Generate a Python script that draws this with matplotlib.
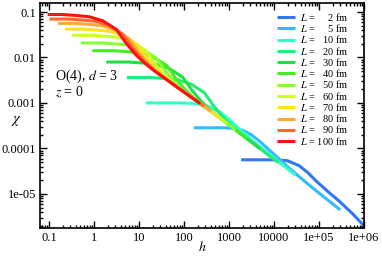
import numpy as np
import matplotlib
matplotlib.use("Agg")
import matplotlib.pyplot as plt
from matplotlib.ticker import FixedLocator, LogLocator, NullFormatter

plt.rcParams['font.family'] = ['Liberation Serif', 'DejaVu Serif']
plt.rcParams['mathtext.fontset'] = 'stix'

# curves: log10(h), log10(chi)
lh_2 = [3.27, 4.0, 4.3, 4.56, 4.75, 4.93, 5.2, 5.45, 5.75, 6.0]
lc_2 = [-4.25, -4.25, -4.27, -4.38, -4.53, -4.71, -4.95, -5.16, -5.44, -5.70]

lh_5 = [2.22, 2.9, 3.1, 3.3, 3.5, 3.7, 3.9, 4.1, 4.3, 4.5, 4.8, 5.1, 5.47]
lc_5 = [-3.545, -3.545, -3.56, -3.6, -3.7, -3.86, -4.04, -4.22, -4.4, -4.57, -4.82, -5.06, -5.35]

lh_10 = [1.15, 2.0, 2.2, 2.4, 2.6, 2.8, 3.0, 3.2, 3.4, 3.6, 3.9, 4.2, 4.47]
lc_10 = [-3.0, -3.0, -3.01, -3.04, -3.1, -3.2, -3.36, -3.55, -3.72, -3.89, -4.13, -4.37, -4.58]

lh_20 = [0.73, 1.25, 1.55, 1.85, 2.15, 2.45, 2.65, 2.85, 3.05, 3.25, 3.6, 3.85, 4.1]
lc_20 = [-2.44, -2.44, -2.46, -2.49, -2.58, -2.77, -3.051, -3.299, -3.498, -3.67, -3.936, -4.126, -4.316]

lh_30 = [0.27, 0.77, 1.07, 1.37, 1.67, 1.97, 2.17, 2.37, 2.57, 2.77, 3.1, 3.4, 3.7]
lc_30 = [-2.10, -2.10, -2.12, -2.15, -2.24, -2.43, -2.709, -2.949, -3.142, -3.31, -3.556, -3.784, -4.012]

lh_40 = [-0.04, 0.42, 0.72, 1.02, 1.32, 1.62, 1.82, 2.02, 2.22, 2.42, 2.8, 3.1, 3.4]
lc_40 = [-1.85, -1.85, -1.87, -1.90, -1.99, -2.18, -2.462, -2.704, -2.894, -3.054, -3.332, -3.556, -3.784]

lh_50 = [-0.29, 0.18, 0.48, 0.78, 1.08, 1.38, 1.58, 1.78, 1.98, 2.18, 2.5, 2.85, 3.15]
lc_50 = [-1.68, -1.68, -1.70, -1.73, -1.82, -2.01, -2.292, -2.534, -2.726, -2.886, -3.11, -3.369, -3.594]

lh_60 = [-0.49, -0.06, 0.24, 0.54, 0.84, 1.14, 1.34, 1.54, 1.74, 1.94, 2.3, 2.65, 2.95]
lc_60 = [-1.51, -1.51, -1.53, -1.56, -1.65, -1.84, -2.121, -2.363, -2.555, -2.717, -2.97, -3.221, -3.443]

lh_70 = [-0.64, -0.25, 0.05, 0.35, 0.65, 0.95, 1.15, 1.35, 1.55, 1.75, 2.2, 2.5, 2.8]
lc_70 = [-1.375, -1.375, -1.395, -1.425, -1.515, -1.705, -1.987, -2.229, -2.421, -2.583, -2.90, -3.11, -3.332]

lh_80 = [-0.80, -0.43, -0.13, 0.17, 0.47, 0.77, 0.97, 1.17, 1.37, 1.57, 2.0, 2.3, 2.6]
lc_80 = [-1.25, -1.25, -1.27, -1.30, -1.39, -1.58, -1.859, -2.101, -2.293, -2.455, -2.76, -2.97, -3.184]

lh_90 = [-0.99, -0.56, -0.26, 0.04, 0.34, 0.64, 0.84, 1.04, 1.24, 1.44, 1.8, 2.2, 2.45]
lc_90 = [-1.155, -1.155, -1.175, -1.205, -1.295, -1.485, -1.766, -2.008, -2.200, -2.362, -2.618, -2.90, -3.075]

lh_100 = [-1.03, -0.7, -0.4, -0.1, 0.2, 0.5, 0.7, 0.9, 1.1, 1.3, 1.6, 2.0, 2.36]
lc_100 = [-1.055, -1.055, -1.075, -1.105, -1.195, -1.385, -1.667, -1.909, -2.101, -2.263, -2.476, -2.76, -3.012]

sizes = [2, 5, 10, 20, 30, 40, 50, 60, 70, 80, 90, 100]
colors = ['#3377ee', '#33bbff', '#33ffcc', '#22ee77', '#22e044', '#44ee22',
          '#88ff33', '#ccff22', '#ffe022', '#ffaa33', '#ff6633', '#ff1111']

curves = [(lh_2, lc_2), (lh_5, lc_5), (lh_10, lc_10), (lh_20, lc_20),
          (lh_30, lc_30), (lh_40, lc_40), (lh_50, lc_50), (lh_60, lc_60),
          (lh_70, lc_70), (lh_80, lc_80), (lh_90, lc_90), (lh_100, lc_100)]

fig = plt.figure(figsize=(3.82, 2.56), dpi=100)
ax = fig.add_axes([0.1047, 0.1094, 0.8482, 0.8789])

for L, c, (lh, lc) in zip(sizes, colors, curves):
    lab = r'$L$ = ' + ('\u2007' * (3 - len(str(L)))) + str(L) + ' fm'
    ax.plot(10 ** np.array(lh), 10 ** np.array(lc), color=c, lw=2.2,
            solid_capstyle='butt', label=lab)

ax.set_xscale('log')
ax.set_yscale('log')
ax.set_xlim(10 ** -1.2, 1e6)
ax.set_ylim(1.78e-6, 0.158)

xt = [0.1, 1, 10, 100, 1000, 10000, 1e5, 1e6]
xl = ['0.1', '1', '10', '100', '1000', '10000', '1e+05', '1e+06']
yt = [1e-5, 1e-4, 1e-3, 1e-2, 0.1]
yl = ['1e-05', '0.0001', '0.001', '0.01', '0.1']
ax.xaxis.set_major_locator(FixedLocator(xt))
ax.set_xticklabels(xl)
ax.yaxis.set_major_locator(FixedLocator(yt))
ax.set_yticklabels(yl)
ax.xaxis.set_minor_locator(LogLocator(base=10, subs=np.arange(2, 10), numticks=20))
ax.yaxis.set_minor_locator(LogLocator(base=10, subs=np.arange(2, 10), numticks=20))
ax.xaxis.set_minor_formatter(NullFormatter())
ax.yaxis.set_minor_formatter(NullFormatter())
ax.tick_params(which='both', direction='in', top=True, right=True, labelsize=9, width=1.0)
ax.tick_params(which='major', length=5, pad=3)
ax.tick_params(which='minor', length=2.5)
for s in ax.spines.values():
    s.set_linewidth(1.2)

ax.set_xlabel(r'$h$', fontsize=10, va='center')
ax.xaxis.set_label_coords(0.5, -0.085)
ax.set_ylabel(r'$\chi$', fontsize=10.5, rotation=0, va='center', ha='center')
ax.yaxis.set_label_coords(-0.074, 0.475)

ax.text(0.045, 0.657, r'O(4), $d$ = 3', transform=ax.transAxes, fontsize=10)
ax.text(0.045, 0.583, r'$z$ = 0', transform=ax.transAxes, fontsize=10)

ax.legend(loc='upper right', bbox_to_anchor=(0.973, 0.998), frameon=False,
          fontsize=7.5, handlelength=1.7, handletextpad=0.45, labelspacing=-0.07,
          borderpad=0.2)

fig.savefig('out.png', dpi=100)
